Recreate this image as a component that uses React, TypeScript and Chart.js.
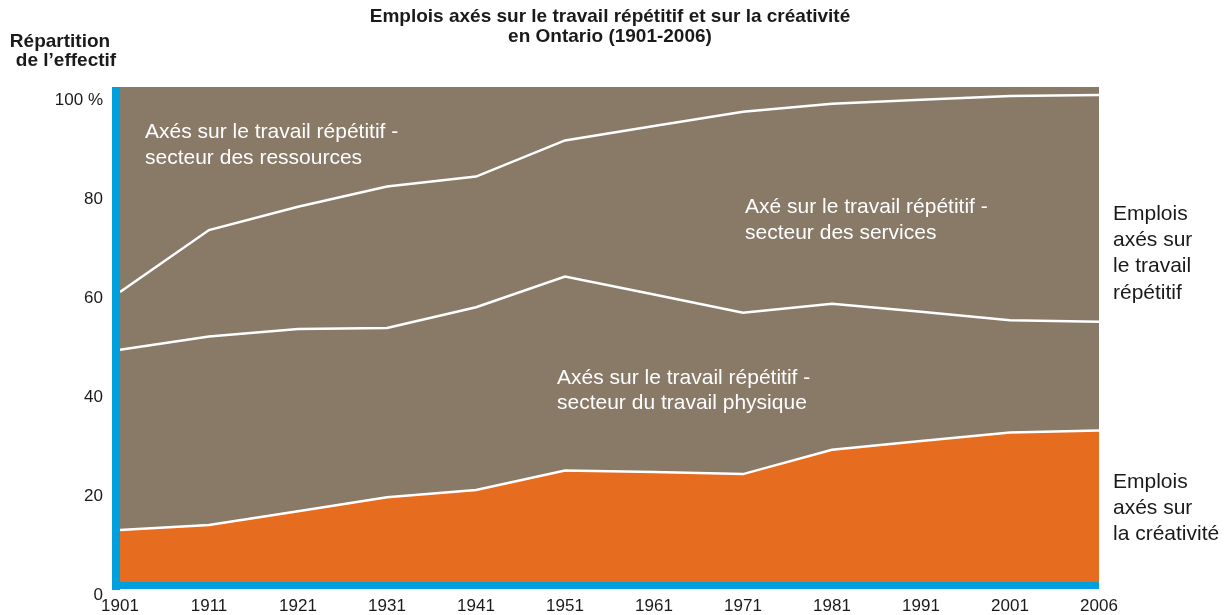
import React, { useEffect, useRef } from 'react';
import { Chart, registerables } from 'chart.js';

Chart.register(...registerables);

// ---- data ----
const years = ['1901', '1911', '1921', '1931', '1941', '1951', '1961', '1971', '1981', '1991', '2001', '2006'];
// shares of the workforce (%), stacked bottom to top
const creative = [10.5, 11.5, 14.3, 17.1, 18.6, 22.5, 22.2, 21.8, 26.7, 28.5, 30.2, 30.6];
const physical = [36.4, 38.1, 36.8, 34.2, 36.9, 39.2, 35.9, 32.6, 29.5, 26.1, 22.7, 22.0];
const services = [11.7, 21.5, 24.7, 28.6, 26.4, 27.5, 34.0, 40.6, 40.4, 42.8, 45.3, 45.8];
const resources = [41.4, 28.9, 24.2, 20.1, 18.1, 10.8, 7.9, 5.0, 3.4, 2.6, 1.8, 1.6];
const yTickValues = [0, 20, 40, 60, 80, 100];

const titleLines = ['Emplois axés sur le travail répétitif et sur la créativité', 'en Ontario (1901-2006)'];
const yTitleLines = ['Répartition', 'de l\u2019effectif'];
const resourcesLabel = ['Axés sur le travail répétitif -', 'secteur des ressources'];
const servicesLabel = ['Axé sur le travail répétitif -', 'secteur des services'];
const physicalLabel = ['Axés sur le travail répétitif -', 'secteur du travail physique'];
const repetitiveSide = ['Emplois', 'axés sur', 'le travail', 'répétitif'];
const creativeSide = ['Emplois', 'axés sur', 'la créativité'];

const ORANGE = '#E66C20';
const BROWN = '#897967';
const BLUE = '#00A0DE';
const TEXT = '#1a1a1a';
const FONT = '"Liberation Sans", Arial, Helvetica, sans-serif';

const decor = {
  id: 'decor',
  afterDraw(chart: any) {
    const { ctx, chartArea: a } = chart;
    ctx.save();
    // blue axis bars
    ctx.fillStyle = BLUE;
    ctx.fillRect(a.left - 8, a.top, 8, a.bottom - a.top + 8);
    ctx.fillRect(a.left - 8, a.bottom, a.right - a.left + 8, 7);

    const lines = (arr: string[], x: number, y: number, lh: number) => {
      arr.forEach((t, i) => ctx.fillText(t, x, y + i * lh));
    };
    ctx.textBaseline = 'middle';

    // title
    ctx.fillStyle = TEXT;
    ctx.font = `bold 19px ${FONT}`;
    ctx.textAlign = 'center';
    lines(titleLines, 610, 17, 19.5);
    // y title
    ctx.fillText(yTitleLines[0], 60, 42);
    ctx.fillText(yTitleLines[1], 66, 61);

    // labels inside areas
    ctx.textAlign = 'left';
    ctx.fillStyle = '#ffffff';
    ctx.font = `21px ${FONT}`;
    lines(resourcesLabel, 145, 132, 26);
    lines(servicesLabel, 745, 207, 26);
    lines(physicalLabel, 557, 378, 25);

    // side labels
    ctx.fillStyle = TEXT;
    lines(repetitiveSide, 1113, 214, 26.3);
    lines(creativeSide, 1113, 482, 26);
    ctx.restore();
  },
};

export default function App() {
  const ref = useRef<HTMLCanvasElement>(null);
  useEffect(() => {
    if (!ref.current) return;
    const common = { pointRadius: 0, pointHoverRadius: 0, tension: 0, borderColor: '#ffffff', borderWidth: 2.5 };
    const chart = new Chart(ref.current, {
      type: 'line',
      data: {
        labels: years,
        datasets: [
          { label: 'Créativité', data: creative, backgroundColor: ORANGE, fill: 'origin', ...common },
          { label: 'Travail physique', data: physical, backgroundColor: BROWN, fill: '-1', ...common },
          { label: 'Services', data: services, backgroundColor: BROWN, fill: '-1', ...common },
          { label: 'Ressources', data: resources, backgroundColor: BROWN, fill: '-1', ...common, borderWidth: 0, borderColor: BROWN },
        ],
      },
      options: {
        animation: false,
        responsive: false,
        layout: { padding: { left: 0, top: 87, right: 125, bottom: 0 } },
        plugins: { legend: { display: false }, tooltip: { enabled: false }, title: { display: false } },
        scales: {
          x: {
            type: 'category',
            offset: false,
            grid: { display: false, drawTicks: false },
            border: { display: false },
            ticks: { font: { family: FONT, size: 17 }, color: TEXT, padding: 14, maxRotation: 0, autoSkip: false },
            afterFit: (s: any) => { s.height = 33; },
          },
          y: {
            stacked: true,
            min: 0,
            max: 100,
            grid: { display: false, drawTicks: false },
            border: { display: false },
            afterBuildTicks: (s: any) => { s.ticks = yTickValues.map((v) => ({ value: v })); },
            ticks: {
              font: { family: FONT, size: 17 },
              color: TEXT,
              padding: 17,
              labelOffset: 13,
              callback: (v: any) => (v === 100 ? '100 %' : String(v)),
            },
            afterFit: (s: any) => { s.width = 120; },
          },
        },
      },
      plugins: [decor],
    });
    return () => chart.destroy();
  }, []);
  return (
    <div style={{ position: 'absolute', left: 0, top: 0, width: 1224, height: 615, background: '#fff' }}>
      <canvas ref={ref} width={1224} height={615} />
    </div>
  );
}
